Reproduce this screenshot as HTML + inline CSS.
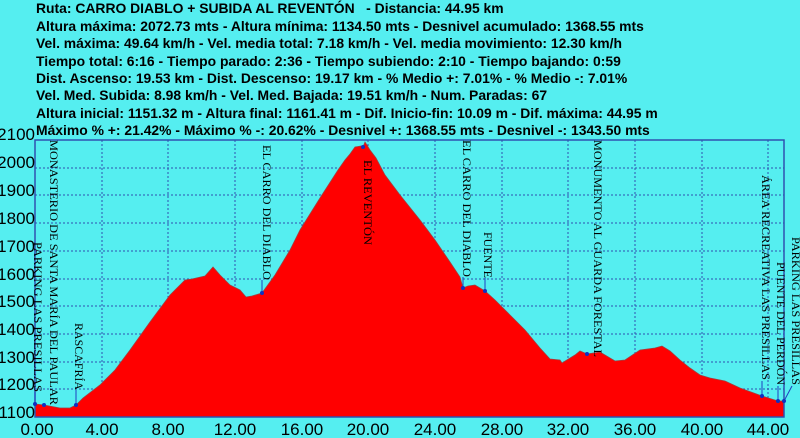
<!DOCTYPE html>
<html><head><meta charset="utf-8"><style>
html,body{margin:0;padding:0;background:#55eef0;}
svg{display:block}
.t{font:bold 13.9px "Liberation Sans",sans-serif;fill:#000}
.ax{font:17px "Liberation Sans",sans-serif;fill:#000}
.lb{font:12px "Liberation Serif",serif;fill:#000}
</style></head><body>
<svg width="800" height="438" viewBox="0 0 800 438" xmlns="http://www.w3.org/2000/svg">
<rect width="800" height="438" fill="#55eef0"/>
<g class="t">
<text x="36" y="13">Ruta: CARRO DIABLO + SUBIDA AL REVENTÓN&#160;&#160;&#160;- Distancia: 44.95 km</text>
<text x="36" y="31">Altura máxima: 2072.73 mts - Altura mínima: 1134.50 mts - Desnivel acumulado: 1368.55 mts</text>
<text x="36" y="48">Vel. máxima: 49.64 km/h - Vel. media total: 7.18 km/h - Vel. media movimiento: 12.30 km/h</text>
<text x="36" y="66">Tiempo total: 6:16 - Tiempo parado: 2:36 - Tiempo subiendo: 2:10 - Tiempo bajando: 0:59</text>
<text x="36" y="83">Dist. Ascenso: 19.53 km - Dist. Descenso: 19.17 km - % Medio +: 7.01% - % Medio -: 7.01%</text>
<text x="36" y="100">Vel. Med. Subida: 8.98 km/h - Vel. Med. Bajada: 19.51 km/h - Num. Paradas: 67</text>
<text x="36" y="118">Altura inicial: 1151.32 m - Altura final: 1161.41 m - Dif. Inicio-fin: 10.09 m - Dif. máxima: 44.95 m</text>
<text x="36" y="135">Máximo % +: 21.42% - Máximo % -: 20.62% - Desnivel +: 1368.55 mts - Desnivel -: 1343.50 mts</text>
</g>
<g stroke="#3050b0" stroke-width="1" stroke-dasharray="2,2">
<line x1="35" y1="168" x2="784" y2="168"/><line x1="35" y1="195" x2="784" y2="195"/>
<line x1="35" y1="223" x2="784" y2="223"/><line x1="35" y1="251" x2="784" y2="251"/>
<line x1="35" y1="279" x2="784" y2="279"/><line x1="35" y1="306" x2="784" y2="306"/>
<line x1="35" y1="334" x2="784" y2="334"/><line x1="35" y1="362" x2="784" y2="362"/>
<line x1="35" y1="389" x2="784" y2="389"/>
<line x1="102" y1="140" x2="102" y2="417"/><line x1="168" y1="140" x2="168" y2="417"/>
<line x1="235" y1="140" x2="235" y2="417"/><line x1="302" y1="140" x2="302" y2="417"/>
<line x1="368" y1="140" x2="368" y2="417"/><line x1="435" y1="140" x2="435" y2="417"/>
<line x1="502" y1="140" x2="502" y2="417"/><line x1="568" y1="140" x2="568" y2="417"/>
<line x1="635" y1="140" x2="635" y2="417"/><line x1="702" y1="140" x2="702" y2="417"/>
<line x1="768" y1="140" x2="768" y2="417"/>
</g>
<polygon fill="#ff0000" stroke="#a04040" stroke-width="0.8" points="35,404 44,405 60,408 70,408 76,405 83,398 100,385 115,370 130,350 150,322 170,295 185,280 192,279 205,276 213,267 220,275 230,285 240,290 246,297 252,296 262,293 275,275 290,250 300,230 320,198 338,170 345,160 350,154 355,147 361,146 363,147 365,142 370,150 376,158 385,175 400,195 420,220 435,240 450,262 460,277 463,288 468,286 475,285 485,291 495,300 510,315 525,330 540,348 550,359 560,360 562,363 575,355 580,351 587,354 600,352 615,361 625,360 640,350 655,348 662,346 670,351 680,360 690,368 700,375 710,378 725,381 740,388 762,396 778,401 784,401 784,417 35,417"/>
<rect x="35" y="140" width="749" height="277" fill="none" stroke="#3050b0" stroke-width="1.5"/>
<g stroke="#2040c0" stroke-width="1">
<line x1="35" y1="404" x2="35" y2="392"/>
<line x1="76" y1="405" x2="76" y2="390"/><line x1="262" y1="293" x2="262" y2="280"/>
<line x1="463" y1="288" x2="463" y2="277"/><line x1="485" y1="291" x2="485" y2="278"/>
<line x1="762" y1="396" x2="762" y2="381"/><line x1="778" y1="401" x2="778" y2="386"/>
<line x1="784" y1="401" x2="792" y2="386"/>
</g>
<g fill="#1030c0">
<circle cx="35" cy="404" r="2"/><circle cx="44" cy="405" r="2"/><circle cx="76" cy="405" r="2"/>
<circle cx="262" cy="293" r="2"/><circle cx="363" cy="147" r="2"/><circle cx="463" cy="288" r="2"/>
<circle cx="485" cy="291" r="2"/><circle cx="587" cy="354" r="2"/><circle cx="762" cy="396" r="2"/>
<circle cx="778" cy="401" r="2"/><circle cx="784" cy="401" r="2"/>
</g>
<g class="lb">
<text transform="translate(34,242) rotate(90)" textLength="150" lengthAdjust="spacingAndGlyphs">PARKING LAS PRESILLAS</text>
<text transform="translate(50,140) rotate(90)" textLength="265" lengthAdjust="spacingAndGlyphs">MONASTERIO DE SANTA MARÍA DEL PAULAR</text>
<text transform="translate(75,323) rotate(90)" textLength="67" lengthAdjust="spacingAndGlyphs">RASCAFRÍA</text>
<text transform="translate(263,145) rotate(90)" textLength="135" lengthAdjust="spacingAndGlyphs">EL CARRO DEL DIABLO</text>
<text transform="translate(364,160) rotate(90)" textLength="85" lengthAdjust="spacingAndGlyphs">EL REVENTÓN</text>
<text transform="translate(463,140) rotate(90)" textLength="137" lengthAdjust="spacingAndGlyphs">EL CARRO DEL DIABLO</text>
<text transform="translate(484,232) rotate(90)" textLength="46" lengthAdjust="spacingAndGlyphs">FUENTE</text>
<text transform="translate(594,140) rotate(90)" textLength="217" lengthAdjust="spacingAndGlyphs">MONUMENTO AL GUARDA FORESTAL</text>
<text transform="translate(762,175) rotate(90)" textLength="205" lengthAdjust="spacingAndGlyphs">ÁREA RECREATIVA LAS PRESILLAS</text>
<text transform="translate(777,262) rotate(90)" textLength="123" lengthAdjust="spacingAndGlyphs">PUENTE DEL PERDÓN</text>
<text transform="translate(792,237) rotate(90)" textLength="148" lengthAdjust="spacingAndGlyphs">PARKING LAS PRESILLAS</text>
</g>
<g class="ax" text-anchor="end">
<text x="35" y="140">2100</text><text x="35" y="168">2000</text><text x="35" y="196">1900</text>
<text x="35" y="224">1800</text><text x="35" y="252">1700</text><text x="35" y="280">1600</text>
<text x="35" y="307">1500</text><text x="35" y="335">1400</text><text x="35" y="363">1300</text>
<text x="35" y="390">1200</text><text x="35" y="418">1100</text>
</g>
<g class="ax" text-anchor="middle">
<text x="37" y="435">0.00</text><text x="102" y="435">4.00</text><text x="168" y="435">8.00</text>
<text x="235" y="435">12.00</text><text x="302" y="435">16.00</text><text x="368" y="435">20.00</text>
<text x="435" y="435">24.00</text><text x="502" y="435">28.00</text><text x="568" y="435">32.00</text>
<text x="635" y="435">36.00</text><text x="702" y="435">40.00</text><text x="768" y="435">44.00</text>
</g>
</svg>
</body></html>
